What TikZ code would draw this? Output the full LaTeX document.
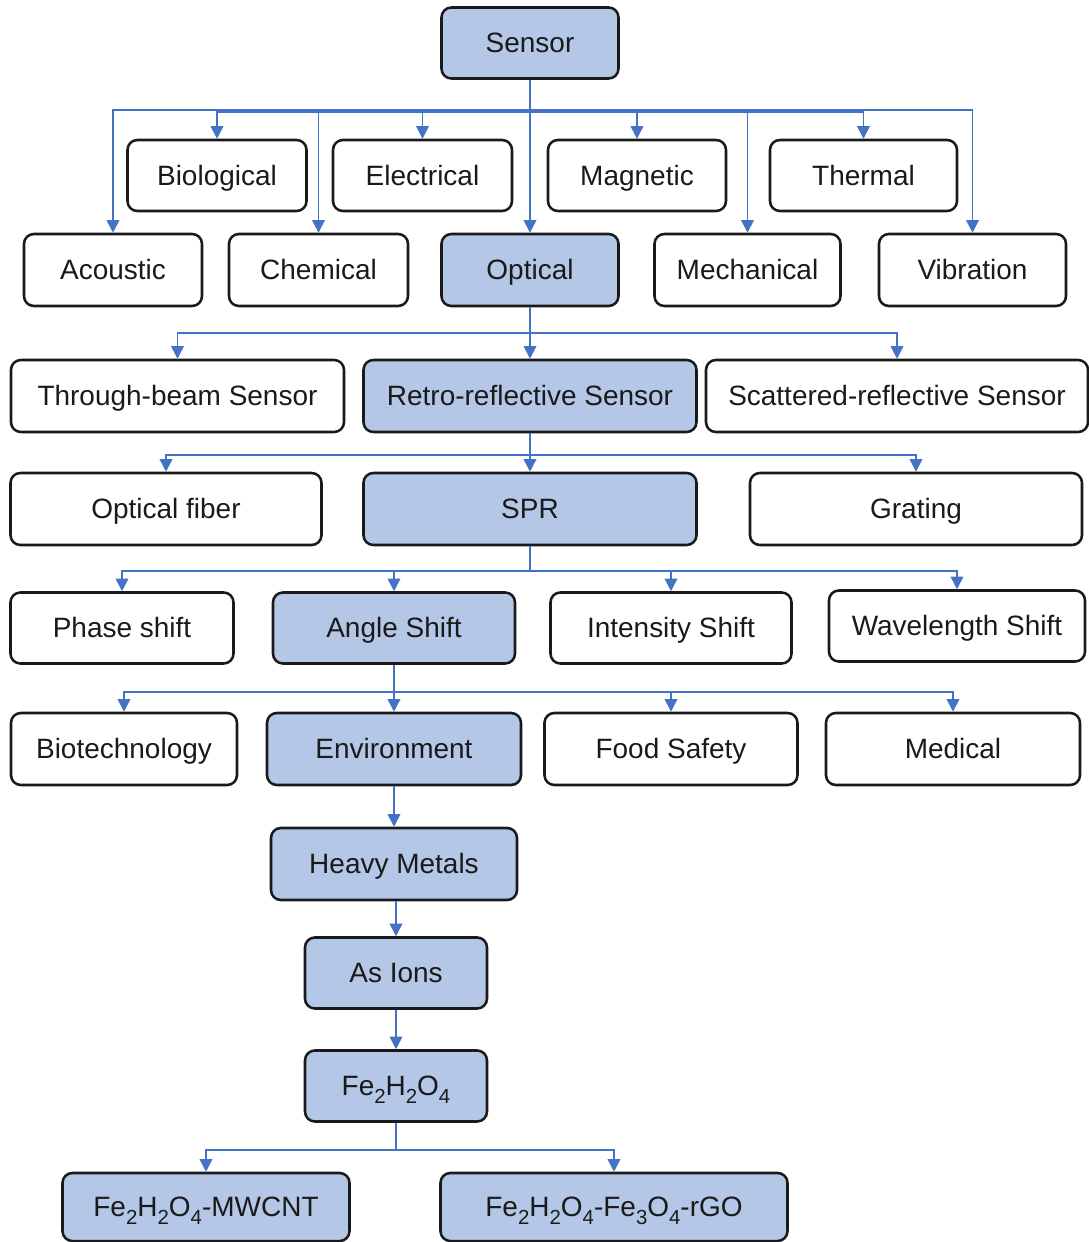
\documentclass[tikz,border=0pt]{standalone}
\usepackage{fontspec}
\setmainfont{Liberation Sans}
\usetikzlibrary{arrows.meta}
\definecolor{boxblue}{HTML}{B4C7E7}
\definecolor{linkblue}{HTML}{4472C4}
\definecolor{ink}{HTML}{1A1A1A}
\newcommand{\chsub}[1]{\raisebox{-0.28em}{\fontsize{14.5}{14.5}\selectfont #1}}
\begin{document}
\begin{tikzpicture}[x=0.025cm,y=-0.025cm,
  sz/.style 2 args={minimum width=#1*0.025cm, minimum height=#2*0.025cm},
  base/.style={draw=ink, line width=1.8pt, rounded corners=7pt, inner sep=0pt,
    text=ink, font=\fontsize{19.9}{23}\selectfont, text height=14.2pt, text depth=0pt},
  wbox/.style={base, fill=white},
  bbox/.style={base, fill=boxblue},
  conn/.style={draw=linkblue, line width=1.2pt,
    -{Triangle[length=9pt,width=9pt]}},
  plain/.style={draw=linkblue, line width=1.2pt}]
\useasboundingbox[fill=white] (0,0) rectangle (1089,1242);

% level 0
\node[bbox, sz={177}{71}] (sensor) at (530,43) {Sensor};
% level 1 upper row
\node[wbox, sz={179}{71}] (bio)  at (217,175.5) {Biological};
\node[wbox, sz={179}{71}] (elec) at (422.5,175.5) {Electrical};
\node[wbox, sz={178}{71}] (magn) at (637,175.5) {Magnetic};
\node[wbox, sz={187}{71}] (therm) at (863.5,175.5) {Thermal};
% level 1 lower row
\node[wbox, sz={178}{72}] (acou) at (113,270) {Acoustic};
\node[wbox, sz={179}{72}] (chem) at (318.5,270) {Chemical};
\node[bbox, sz={177}{72}] (optical) at (530,270) {Optical};
\node[wbox, sz={186}{72}] (mech) at (747.5,270) {Mechanical};
\node[wbox, sz={187}{72}] (vib)  at (972.5,270) {Vibration};
% level 2
\node[wbox, sz={333}{72}] (through) at (177.5,396) {Through-beam Sensor};
\node[bbox, sz={333}{72}] (retro) at (530,396) {Retro-reflective Sensor};
\node[wbox, sz={382}{72}] (scatter) at (897,396) {Scattered-reflective Sensor};
% level 3
\node[wbox, sz={311}{72}] (fiber) at (166,509) {Optical fiber};
\node[bbox, sz={333}{72}] (spr) at (530,509) {SPR};
\node[wbox, sz={332}{72}] (grating) at (916,509) {Grating};
% level 4
\node[wbox, sz={223}{71}] (phase) at (122,628) {Phase shift};
\node[bbox, sz={242}{71}] (angle) at (394,628) {Angle Shift};
\node[wbox, sz={241}{71}] (intens) at (671,628) {Intensity Shift};
\node[wbox, sz={256}{71}] (wave) at (957,626) {Wavelength Shift};
% level 5
\node[wbox, sz={226}{72}] (biotech) at (124,749) {Biotechnology};
\node[bbox, sz={254}{72}] (env) at (394,749) {Environment};
\node[wbox, sz={253}{72}] (food) at (671,749) {Food Safety};
\node[wbox, sz={254}{72}] (medical) at (953,749) {Medical};
% chain
\node[bbox, sz={246}{72}] (heavy) at (394,864) {Heavy Metals};
\node[bbox, sz={182}{71}] (asions) at (396,973) {As Ions};
\node[bbox, sz={182}{71}] (fe) at (396,1086) {Fe\chsub{2}H\chsub{2}O\chsub{4}};
\node[bbox, sz={287}{68}] (mwcnt) at (206,1207) {Fe\chsub{2}H\chsub{2}O\chsub{4}-MWCNT};
\node[bbox, sz={347}{68}] (rgo) at (614,1207) {Fe\chsub{2}H\chsub{2}O\chsub{4}-Fe\chsub{3}O\chsub{4}-rGO};

% connectors: Sensor
\draw[conn] (sensor.south) -- ++(0,30) -| (acou.north);
\draw[conn] (sensor.south) -- ++(0,30) -| (chem.north);
\draw[conn] (sensor.south) -- (optical.north);
\draw[conn] (sensor.south) -- ++(0,30) -| (mech.north);
\draw[conn] (sensor.south) -- ++(0,30) -| (vib.north);
\draw[conn] (sensor.south) -- ++(0,32.5) -| (bio.north);
\draw[conn] (sensor.south) -- ++(0,32.5) -| (elec.north);
\draw[conn] (sensor.south) -- ++(0,32.5) -| (magn.north);
\draw[conn] (sensor.south) -- ++(0,32.5) -| (therm.north);
% Optical
\draw[conn] (optical.south) -- ++(0,26) -| (through.north);
\draw[conn] (optical.south) -- (retro.north);
\draw[conn] (optical.south) -- ++(0,26) -| (scatter.north);
% Retro
\draw[conn] (retro.south) -- ++(0,22) -| (fiber.north);
\draw[conn] (retro.south) -- (spr.north);
\draw[conn] (retro.south) -- ++(0,22) -| (grating.north);
% SPR
\draw[plain] (spr.south) -- ++(0,25) coordinate (jspr);
\draw[conn] (jspr) -| (phase.north);
\draw[conn] (jspr) -| (angle.north);
\draw[conn] (jspr) -| (intens.north);
\draw[conn] (jspr) -| (wave.north);
% Angle
\draw[conn] (angle.south) -- ++(0,27) -| (biotech.north);
\draw[conn] (angle.south) -- (env.north);
\draw[conn] (angle.south) -- ++(0,27) -| (food.north);
\draw[conn] (angle.south) -- ++(0,27) -| (medical.north);
% chain
\draw[conn] (env.south) -- (heavy.north);
\draw[conn] (asions.north |- heavy.south) -- (asions.north);
\draw[conn] (asions.south) -- (fe.north);
\draw[conn] (fe.south) -- ++(0,27) -| (mwcnt.north);
\draw[conn] (fe.south) -- ++(0,27) -| (rgo.north);
\end{tikzpicture}
\end{document}
